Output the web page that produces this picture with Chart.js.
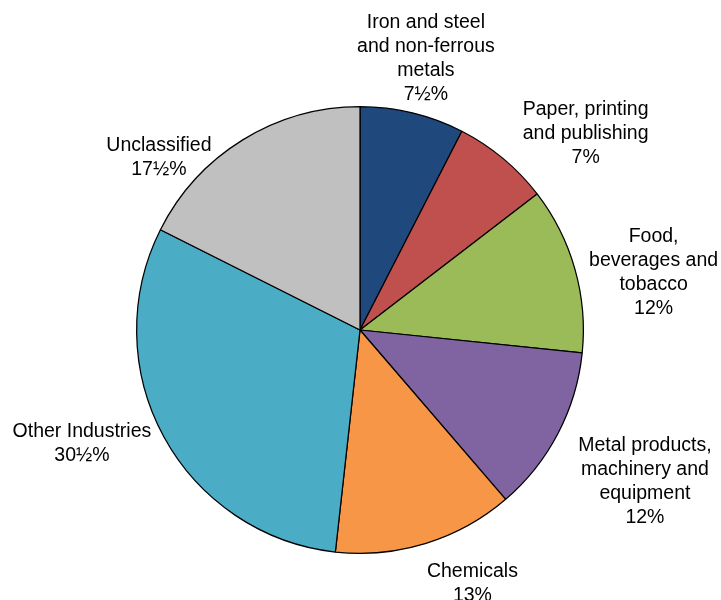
<!DOCTYPE html>
<html>
<head>
<meta charset="utf-8">
<script src="https://cdn.jsdelivr.net/npm/chart.js@4"></script>
<style>
  html, body { margin: 0; padding: 0; background: #fff; }
  .wrap { width: 721px; height: 600px; }
</style>
</head>
<body>
<div class="wrap"><canvas id="chart"></canvas></div>
<script>
const CATEGORIES = [
  "Iron and steel\nand non-ferrous\nmetals",
  "Paper, printing\nand publishing",
  "Food,\nbeverages and\ntobacco",
  "Metal products,\nmachinery and\nequipment",
  "Chemicals",
  "Other Industries",
  "Unclassified"
];
const SHARES = [7.5, 7, 12, 12, 13, 30.5, 17.5];

const COLORS = [
  "#1f497d",
  "#c0504d",
  "#9bbb59",
  "#8064a2",
  "#f79646",
  "#4bacc6",
  "#c0c0c0"
];

// hand tweaks so the labels sit where the original put them
const LABEL_NUDGE = [
  [-5, 2], [36, 11], [7, 19], [19, 21], [30, 8], [-12, -9], [-51, 47]
];

function pct(v) {
  const whole = Math.floor(v);
  return whole + (v - whole >= 0.5 ? "½" : "") + "%";
}

const FONT = '19.5px "Liberation Sans", Arial, sans-serif';
const LINE_H = 24;

const outsideLabels = {
  id: 'outsideLabels',
  afterDatasetsDraw(chart) {
    const ctx = chart.ctx;
    const arcs = chart.getDatasetMeta(0).data;
    ctx.save();
    ctx.font = FONT;
    ctx.fillStyle = '#000';
    ctx.textAlign = 'center';
    ctx.textBaseline = 'middle';
    arcs.forEach((arc, i) => {
      const lines = CATEGORIES[i].split("\n").concat(pct(SHARES[i]));
      const w = Math.max(...lines.map(l => ctx.measureText(l).width));
      const h = lines.length * LINE_H;
      const mid = (arc.startAngle + arc.endAngle) / 2;
      const s = Math.cos(mid), c = Math.sin(mid); // screen x / y components
      const r = arc.outerRadius + 10;
      const cx = arc.x + r * s + (w / 2) * s + LABEL_NUDGE[i][0];
      const cy = arc.y + r * c + (h / 2) * c + LABEL_NUDGE[i][1];
      lines.forEach((l, k) => {
        ctx.fillText(l, cx, cy - h / 2 + LINE_H * (k + 0.5));
      });
    });
    ctx.restore();
  }
};

new Chart(document.getElementById('chart').getContext('2d'), {
  type: 'pie',
  data: {
    labels: CATEGORIES,
    datasets: [{
      data: SHARES,
      backgroundColor: COLORS,
      borderColor: '#000',
      borderWidth: 1.25
    }]
  },
  options: {
    responsive: true,
    maintainAspectRatio: false,
    animation: false,
    layout: {
      padding: { left: 136, right: 137, top: 106, bottom: 46 }
    },
    plugins: {
      legend: { display: false },
      tooltip: { enabled: false }
    }
  },
  plugins: [outsideLabels]
});
</script>
</body>
</html>
